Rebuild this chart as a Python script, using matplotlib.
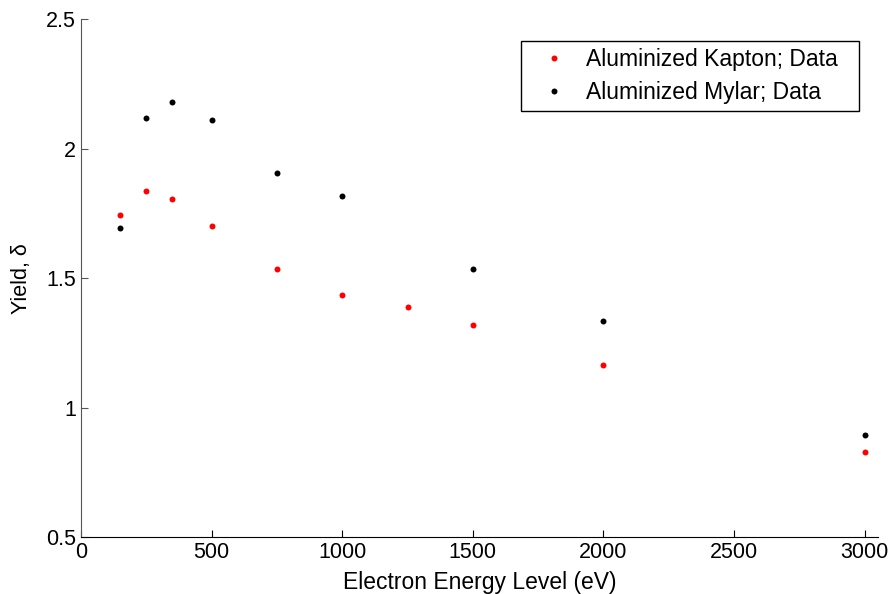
import matplotlib
matplotlib.use('Agg')
import matplotlib.pyplot as plt

plt.rcParams['font.family'] = ['Liberation Sans', 'DejaVu Sans']

# electron beam energies (eV) and measured total yields
kapton_energy = [150, 250, 350, 500, 750, 1000, 1250, 1500, 2000, 3000]
kapton_yield = [1.745, 1.835, 1.805, 1.70, 1.535, 1.435, 1.39, 1.318, 1.165, 0.83]

mylar_energy = [150, 250, 350, 500, 750, 1000, 1500, 2000, 3000]
mylar_yield = [1.695, 2.118, 2.182, 2.112, 1.905, 1.817, 1.535, 1.335, 0.895]

xticks = [0, 500, 1000, 1500, 2000, 2500, 3000]
yticks = [0.5, 1, 1.5, 2, 2.5]

fig = plt.figure(figsize=(8.94, 5.94), dpi=100)
ax = fig.add_axes([0.0906, 0.096, 0.8912, 0.8715])

ax.plot(kapton_energy, kapton_yield, 'o', color='#ff0000', markersize=4.3,
        markeredgewidth=0, label='Aluminized Kapton; Data')
ax.plot(mylar_energy, mylar_yield, 'o', color='black', markersize=4.3,
        markeredgewidth=0, label='Aluminized Mylar; Data')

ax.set_xlim(0, 3050)
ax.set_ylim(0.5, 2.5)
ax.set_xticks(xticks)
ax.set_xticklabels([str(t) for t in xticks])
ax.set_yticks(yticks)
ax.set_yticklabels([f'{t:g}' for t in yticks])

ax.spines['top'].set_visible(False)
ax.spines['right'].set_visible(False)
ax.spines['left'].set_color('#555555')
ax.spines['bottom'].set_color('black')
ax.tick_params(direction='in', length=5, width=0.8, labelsize=15.5, pad=3.5)
ax.tick_params(axis='y', colors='#555555', labelcolor='black')

ax.set_xlabel('Electron Energy Level (eV)', fontsize=16.5, labelpad=6)
ax.set_ylabel('Yield, δ', fontsize=15.5, labelpad=10)

# legend box stretched to a fixed width (mode='expand')
leg = ax.legend(loc='upper left', bbox_to_anchor=(0.5523, 0.958, 0.4243, 0),
                mode='expand', borderaxespad=0, fontsize=16.5, frameon=True,
                fancybox=False, edgecolor='black', framealpha=1,
                handletextpad=0.28, borderpad=0.32, labelspacing=0.4,
                handlelength=2.25)
leg.get_frame().set_linewidth(1.0)

fig.savefig('out.png', dpi=100)
